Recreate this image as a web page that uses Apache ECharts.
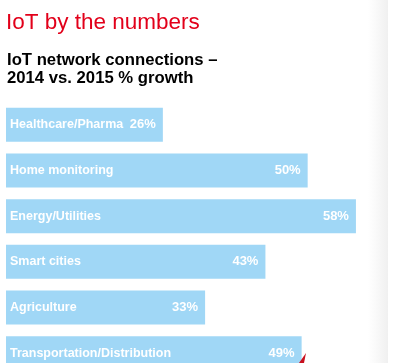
<!DOCTYPE html>
<html><head><meta charset="utf-8">
<script src="https://cdn.jsdelivr.net/npm/echarts@6/dist/echarts.min.js"></script>
<style>html,body{margin:0;padding:0;background:#fff}#c{width:397px;height:363px}</style>
</head><body><div id="c"></div>
<script>
const categories = ["Healthcare/Pharma","Home monitoring","Energy/Utilities","Smart cities","Agriculture","Transportation/Distribution"];
const growth = [26, 50, 58, 43, 33, 49];
const titleText = "IoT by the numbers";
const subtitleText = "IoT network connections –\n2014 vs. 2015 % growth";

const chart = echarts.init(document.getElementById('c'));
const font = '"Liberation Sans", Arial, sans-serif';
chart.setOption({
  animation: false,
  backgroundColor: '#ffffff',
  title: [
    {text: titleText, left: 6, top: 11, padding: 0, textStyle: {color: '#e2001a', fontSize: 22.5, fontWeight: 'normal', fontFamily: font}},
    {text: subtitleText, left: 7, top: 51, padding: 0, textStyle: {color: '#000', fontSize: 16.7, fontWeight: 'bold', fontFamily: font, lineHeight: 18}}
  ],
  graphic: [{
    type: 'rect', left: 368, top: 0, shape: {width: 20, height: 363}, z: -1,
    style: {fill: new echarts.graphic.LinearGradient(0,0,1,0,[{offset:0,color:'rgba(240,240,240,0)'},{offset:1,color:'rgba(238,238,238,0.9)'}])}
  }, {
    type: 'polygon', z: 10, shape: {points: [[299,363],[306,353],[304,363]]}, style: {fill: '#c8101e'}
  }],
  grid: {left: 6, top: 102, width: 362, height: 274, containLabel: false, outerBoundsMode: 'none'},
  xAxis: {type: 'value', min: 0, max: 60, show: false},
  yAxis: {type: 'category', data: categories, inverse: true, show: false},
  series: [
    {type: 'bar', data: growth, barWidth: 34, itemStyle: {color: '#a0d7f6'},
     label: {show: true, position: 'insideRight', distance: 7, formatter: '{c}%', color: '#fff', fontWeight: 'bold', fontSize: 13, fontFamily: font}},
    {type: 'bar', data: growth, barWidth: 34, barGap: '-100%', itemStyle: {color: 'rgba(0,0,0,0)'},
     label: {show: true, position: 'insideLeft', distance: 4, formatter: p => categories[p.dataIndex], color: '#fff', fontWeight: 'bold', fontSize: 12.5, fontFamily: font}}
  ]
});
</script></body></html>
